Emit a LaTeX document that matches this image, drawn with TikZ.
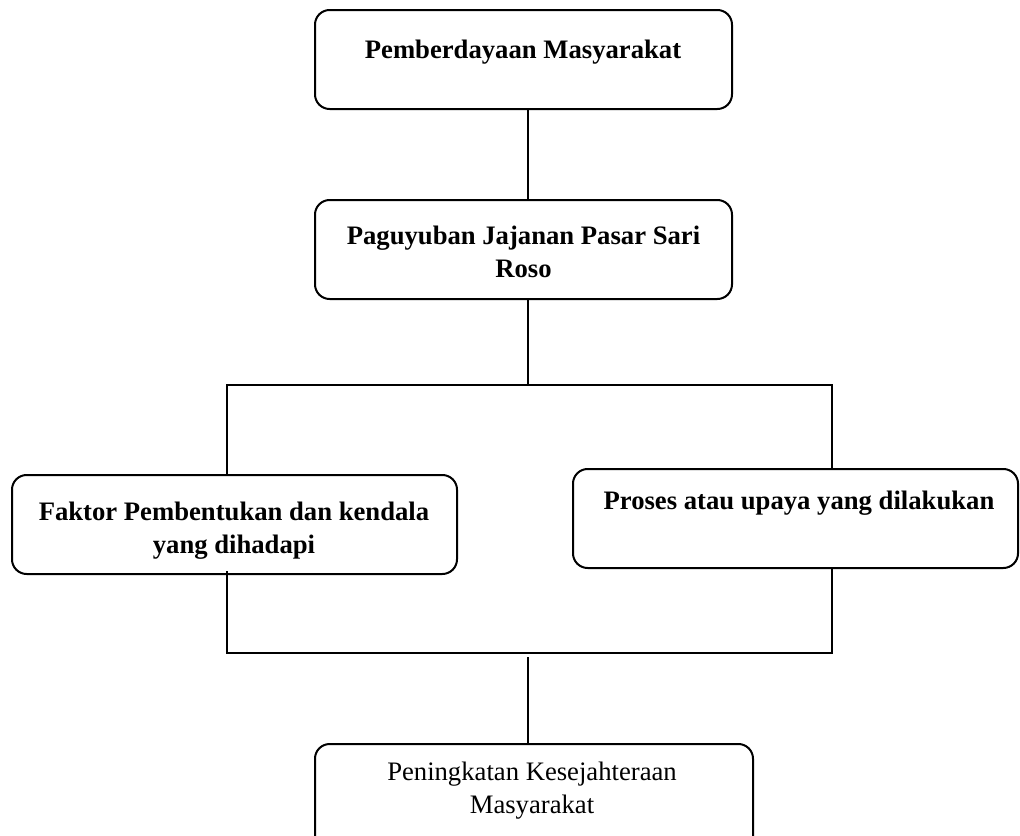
\documentclass[tikz,border=0pt]{standalone}
\usepackage{fontspec}
\setmainfont{Liberation Serif}
\usetikzlibrary{fit}
\begin{document}
\begin{tikzpicture}[x=0.75pt,y=-0.75pt,
  box/.style={draw=black, line width=1.5pt, rounded corners=11pt, inner sep=0pt},
  lbl/.style={align=center, inner sep=0pt, font=\fontsize{20}{24.75}\selectfont\bfseries},
  lblr/.style={align=center, inner sep=0pt, font=\fontsize{20}{24.75}\selectfont},
  thickln/.style={line width=1.6pt},
  thinln/.style={line width=0.9pt}]
\useasboundingbox (0,0) rectangle (1020,835);
\clip (0,0) rectangle (1020,835);
% boxes
\node[box, fit={(315,10) (732,109)}] (b1) {};
\node[box, fit={(315,200) (732,299)}] (b2) {};
\node[box, fit={(12,475) (457,574)}] (b3) {};
\node[box, fit={(573,469) (1018,568)}] (b4) {};
\node[box, fit={(315,744) (753,860)}] (b5) {};
% texts
\node[lbl] (t1) at (523,52) {Pemberdayaan Masyarakat};
\node[lbl] (t2) at (523.5,252) {Paguyuban Jajanan Pasar Sari\\Roso};
\node[lbl] (t3) at (234,531) {Faktor Pembentukan dan kendala\\yang dihadapi};
\node[lbl] (t4) at (799,503) {Proses atau upaya yang dilakukan};
\node[lblr] (t5) at (532,791) {Peningkatan Kesejahteraan\\Masyarakat};
% junction coordinates
\coordinate (cx) at (528,0);
\coordinate (jL1) at (227,385);
\coordinate (jR1) at (832,385);
\coordinate (jC1) at (528,385);
\coordinate (jL2) at (227,653);
\coordinate (jR2) at (832,653);
\coordinate (jC2) at (528,653);
% connectors
\draw[thickln] (b1.south -| cx) -- (b2.north -| cx);
\draw[thickln] (b2.south -| cx) -- (jC1);
\draw[thickln] ([xshift=-0.5pt]jL1) -- ([xshift=0.5pt]jR1);
\draw[thinln] (jL1) -- (jL1 |- b3.north);
\draw[thinln] (jR1) -- (jR1 |- b4.north);
\draw[thinln] ([yshift=3pt]jL2 |- b3.south) -- (jL2);
\draw[thinln] (jR2 |- b4.south) -- (jR2);
\draw[thickln] ([xshift=-0.5pt]jL2) -- ([xshift=0.5pt]jR2);
\draw[thickln] ([yshift=-3pt]jC2) -- (b5.north -| cx);
\end{tikzpicture}
\end{document}
